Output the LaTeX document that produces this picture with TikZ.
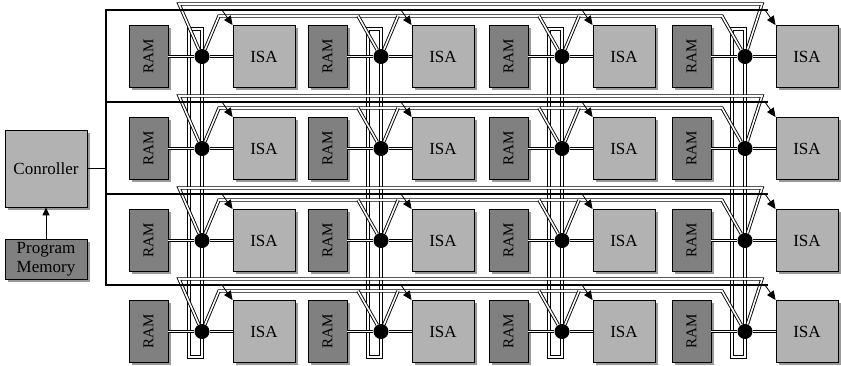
\documentclass[tikz,border=0pt]{standalone}
\usepackage{fontspec}
\setmainfont{Liberation Serif}
\usepackage{graphicx}
\usetikzlibrary{arrows.meta,shadows}
\begin{document}
\begin{tikzpicture}[x=1pt,y=-1pt,
  box/.style={draw=black, line width=0.9pt, inner sep=0pt,
    general shadow={fill=black!40, shadow xshift=2.5pt, shadow yshift=-2.5pt}},
  rambox/.style={box, fill=black!50, minimum width=39pt, minimum height=62pt,
    font=\fontsize{15}{15}\selectfont},
  isabox/.style={box, fill=black!30, minimum width=62pt, minimum height=62pt,
    font=\fontsize{17}{17}\selectfont},
  dbl/.style={draw=black, line width=0.9pt, double=white, double distance=1.6pt},
  ctrlline/.style={draw=black, line width=1.8pt},
  junction/.style={circle, fill=black, minimum size=15pt, inner sep=0pt},
  arr/.style={draw=black, line width=0.8pt, -{Triangle[length=9pt,width=8pt]}},
  arrup/.style={draw=black, line width=1pt, -{Triangle[length=8pt,width=7pt]}},
]
\useasboundingbox (0,0) rectangle (841,365);
\fill[white] (0,0) rectangle (841,365);

% coordinates
\foreach \r/\T in {1/10,2/102,3/194,4/285}{
  \foreach \c/\D/\ly/\ry in {1/202/-6/6,2/381/6/6,3/562/6/6,4/745/6/-6}{
    \coordinate (p\r\c) at (\D,\T+46.5);
    \coordinate (as\r\c) at (\D+20,\T);
    \coordinate (tl\r\c) at (\D-23,\T+\ly);
    \coordinate (tr\r\c) at (\D+17,\T+\ry);
  }
  \coordinate (cl\r) at (106,\T);
  \coordinate (cr\r) at (768,\T);
}

% vertical ring buses
\foreach \c/\D in {1/202,2/381,3/562,4/745}{
  \coordinate (vt\c) at (\D-13,29);
  \coordinate (vb\c) at (\D,357);
  \draw[dbl] (vt\c) rectangle (vb\c);
}

% nodes
\foreach \r/\T in {1/10,2/102,3/194,4/285}{
  \foreach \c/\D in {1/202,2/381,3/562,4/745}{
    \node[rambox] (ram\r\c) at (\D-53.5,\T+46.5) {\rotatebox{90}{RAM}};
    \node[isabox] (isa\r\c) at (\D+62,\T+46.5) {ISA};
    \node[junction] (dot\r\c) at (p\r\c) {};
  }
}

% horizontal ring buses and diagonals
\foreach \r in {1,2,3,4}{
  \draw[dbl] (dot\r1) -- (tl\r1) -- (tr\r4) -- (dot\r4);
  \draw[dbl] (dot\r1) -- (tr\r1) -- (tl\r4) -- (dot\r4);
  \foreach \c in {2,3}{
    \draw[dbl] (dot\r\c) -- (tl\r\c);
    \draw[dbl] (dot\r\c) -- (tr\r\c);
  }
  \foreach \c in {1,2,3,4}{
    \draw[dbl] (ram\r\c) -- (dot\r\c);
    \draw[dbl] (dot\r\c) -- (isa\r\c);
  }
}

% controller
\node[box, fill=black!30, minimum width=82pt, minimum height=77pt,
  font=\fontsize{17}{17}\selectfont] (ctrl) at (46,168.5) {Conroller};
\node[box, fill=black!50, minimum width=82pt, minimum height=40pt, align=center,
  font=\fontsize{17}{19}\selectfont] (pm) at (46,259) {Program\\Memory};
\draw[arrup] (pm) -- (ctrl);
\coordinate (cj) at (106,168.5);
\draw[ctrlline] (ctrl) -- (cj);
\draw[ctrlline] (cr1) -- (cl1) -- (cl4) -- (cr4);
\draw[ctrlline] (cl2) -- (cr2);
\draw[ctrlline] (cl3) -- (cr3);

% control arrows
\foreach \r in {1,2,3,4}{
  \foreach \c in {1,2,3,4}{
    \draw[arr] (as\r\c) -- (isa\r\c.north west);
  }
}
\end{tikzpicture}
\end{document}
